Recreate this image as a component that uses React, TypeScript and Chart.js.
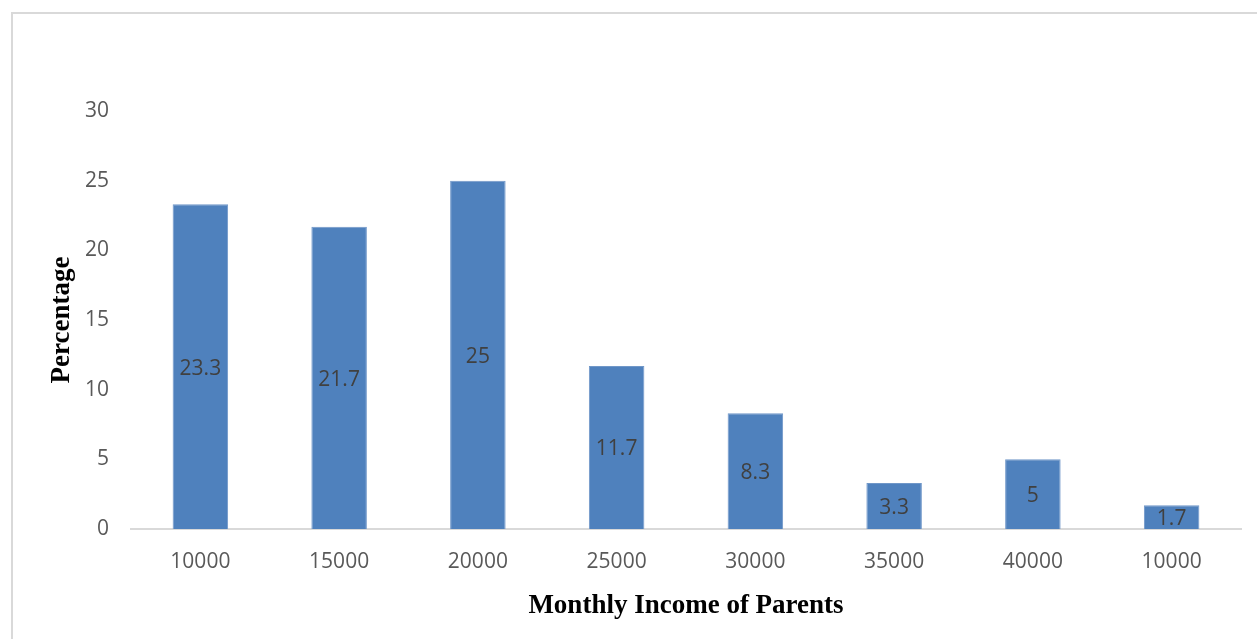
import React, { useEffect, useRef } from "react";
import { Chart, registerables } from "chart.js";

Chart.register(...registerables);

const categories: string[] = ["10000", "15000", "20000", "25000", "30000", "35000", "40000", "10000"];
const percentages: number[] = [23.3, 21.7, 25, 11.7, 8.3, 3.3, 5, 1.7];
const yTicks: number[] = [0, 5, 10, 15, 20, 25, 30];
const xTitle = "Monthly Income of Parents";
const yTitle = "Percentage";

const W = 1257;
const H = 639;

const centerLabels = {
  id: "centerLabels",
  afterDatasetsDraw(chart: any) {
    const ctx = chart.ctx;
    const meta = chart.getDatasetMeta(0);
    const data = chart.data.datasets[0].data as number[];
    ctx.save();
    ctx.font = "21px 'Open Sans'";
    ctx.fillStyle = "#404040";
    ctx.textAlign = "center";
    ctx.textBaseline = "middle";
    meta.data.forEach((bar: any, i: number) => {
      const p = bar.getProps(["x", "y", "base"], true);
      ctx.fillText(String(data[i]), p.x, (p.y + p.base) / 2 + 2);
    });
    ctx.restore();
  },
};

export default function App() {
  const ref = useRef<HTMLCanvasElement | null>(null);
  useEffect(() => {
    if (!ref.current) return;
    const chart = new Chart(ref.current, {
      type: "bar",
      data: {
        labels: categories,
        datasets: [
          {
            data: percentages,
            backgroundColor: "#4f81bd",
            borderColor: "#7097c8",
            borderWidth: 1,
            barPercentage: 0.8,
            categoryPercentage: 0.5,
          },
        ],
      },
      options: {
        responsive: false,
        animation: false,
        layout: { padding: { left: 0, top: 111, right: 16, bottom: 0 } },
        plugins: {
          legend: { display: false },
          tooltip: { enabled: false },
        },
        scales: {
          x: {
            grid: { display: false, drawTicks: false },
            border: { display: true, color: "#d9d9d9", width: 2 },
            ticks: {
              color: "#595959",
              font: { family: "'Open Sans'", size: 21 },
              padding: 20,
              maxRotation: 0,
              autoSkip: false,
            },
            title: {
              display: true,
              text: xTitle,
              color: "#000000",
              font: { family: "'Liberation Serif'", size: 27, weight: "bold" },
              padding: { top: 0, bottom: 17 },
            },
            afterFit(scale: any) {
              scale.height = 110;
            },
          },
          y: {
            min: 0,
            max: 30,
            afterBuildTicks(scale: any) {
              scale.ticks = yTicks.map((v) => ({ value: v }));
            },
            grid: { display: false, drawTicks: false },
            border: { display: false },
            ticks: {
              color: "#595959",
              font: { family: "'Open Sans'", size: 21 },
              padding: 22,
            },
            title: {
              display: true,
              text: yTitle,
              color: "#000000",
              font: { family: "'Liberation Serif'", size: 27, weight: "bold" },
              padding: { top: 46, bottom: 0 },
            },
            afterFit(scale: any) {
              scale.width = 131;
            },
          },
        },
      },
      plugins: [centerLabels],
    });
    return () => chart.destroy();
  }, []);

  return (
    <div
      style={{
        position: "fixed",
        left: 0,
        top: 0,
        width: W,
        height: H,
        overflow: "hidden",
        background: "#ffffff",
      }}
    >
      <div
        style={{
          position: "absolute",
          left: 11,
          top: 12,
          width: W + 50,
          height: H + 50,
          border: "2px solid #d9d9d9",
          boxSizing: "border-box",
        }}
      />
      <canvas ref={ref} width={W} height={H} style={{ position: "absolute", left: 0, top: 0 }} />
    </div>
  );
}
